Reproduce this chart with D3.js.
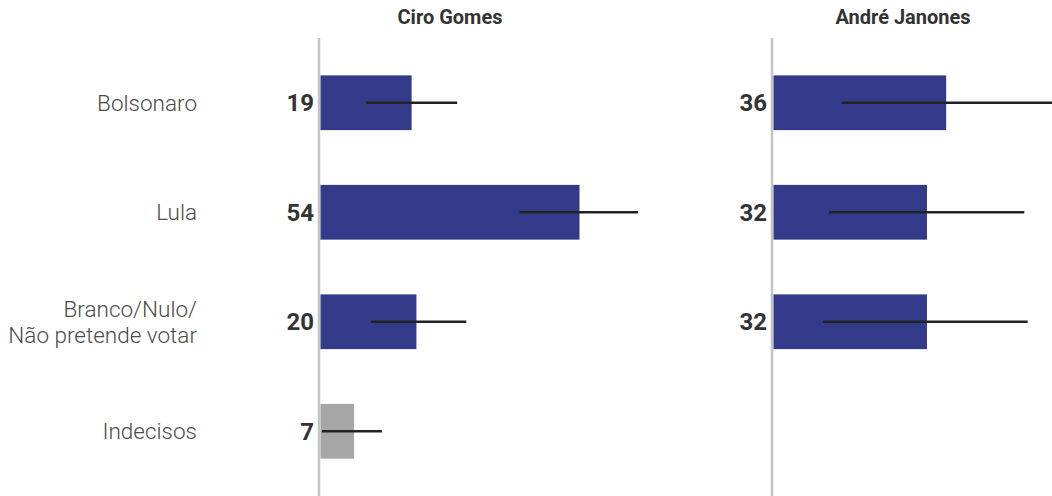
<!DOCTYPE html>
<html><head><meta charset="utf-8">
<script src="https://cdn.jsdelivr.net/npm/d3@7"></script>
<style>body{margin:0;background:#fff}svg{display:block;font-family:Roboto,"Noto Sans",sans-serif}</style>
</head><body><svg id="c" width="1052" height="496"></svg>
<script>
const categories = ["Bolsonaro", "Lula", "Branco/Nulo/\nNão pretende votar", "Indecisos"];
const panels = ["Ciro Gomes", "André Janones"];
const ciroValues = [19, 54, 20, 7];
const ciroLow = [9.6, 41.6, 10.6, 0.4];
const ciroHigh = [28.6, 66.3, 30.5, 12.9];
const janonesValues = [36, 32, 32, null];
const janonesLow = [14.4, 11.7, 10.4, null];
const janonesHigh = [58.5, 52.4, 53.1, null];
const barColors = ["#343a8a", "#343a8a", "#343a8a", "#a6a6a6"];

const svg = d3.select("#c");
const y = d3.scaleBand().domain(categories).range([48, 486]).paddingInner(0.5).paddingOuter(0.25);
const series = [
  {name: panels[0], vals: ciroValues, lo: ciroLow, hi: ciroHigh, x0: 320},
  {name: panels[1], vals: janonesValues, lo: janonesLow, hi: janonesHigh, x0: 773}
];
const W = 259;
series.forEach(s => {
  const x = d3.scaleLinear().domain([0, 54]).range([s.x0, s.x0 + W]);
  const g = svg.append("g");
  g.append("text").attr("x", s.x0 + 130).attr("y", 24).attr("text-anchor","middle")
    .attr("font-size", 20).attr("font-weight", 700).attr("fill", "#333").text(s.name);
  g.append("line").attr("x1", s.x0 - 1).attr("x2", s.x0 - 1).attr("y1", 38).attr("y2", 496)
    .attr("stroke", "#c4c4c4").attr("stroke-width", 2.5);
  categories.forEach((c, i) => {
    const v = s.vals[i];
    if (v == null) return;
    const yc = y(c) + y.bandwidth()/2;
    g.append("rect").attr("x", x(0) + 0.5).attr("y", y(c)).attr("width", x(v) - x(0)).attr("height", y.bandwidth())
      .attr("fill", barColors[i]);
    g.append("line").attr("x1", x(s.lo[i])).attr("x2", Math.min(x(s.hi[i]), 1052)).attr("y1", yc).attr("y2", yc)
      .attr("stroke", "#222").attr("stroke-width", 2.6);
    g.append("text").attr("x", s.x0 - 6).attr("y", yc).attr("dy", "0.35em").attr("text-anchor", "end")
      .attr("font-size", 24).attr("font-weight", 700).attr("fill", "#333").text(v);
  });
});
categories.forEach(c => {
  const lines = c.split("\n");
  const yc = y(c) + y.bandwidth()/2;
  const t = svg.append("text").attr("text-anchor", "end").attr("font-size", 22.5).attr("font-weight", 300).attr("fill", "#4a4a4a");
  lines.forEach((l, j) => {
    t.append("tspan").attr("x", 197).attr("y", yc + (j - (lines.length - 1)/2) * 26).attr("dy", "0.35em").text(l);
  });
});
</script></body></html>
